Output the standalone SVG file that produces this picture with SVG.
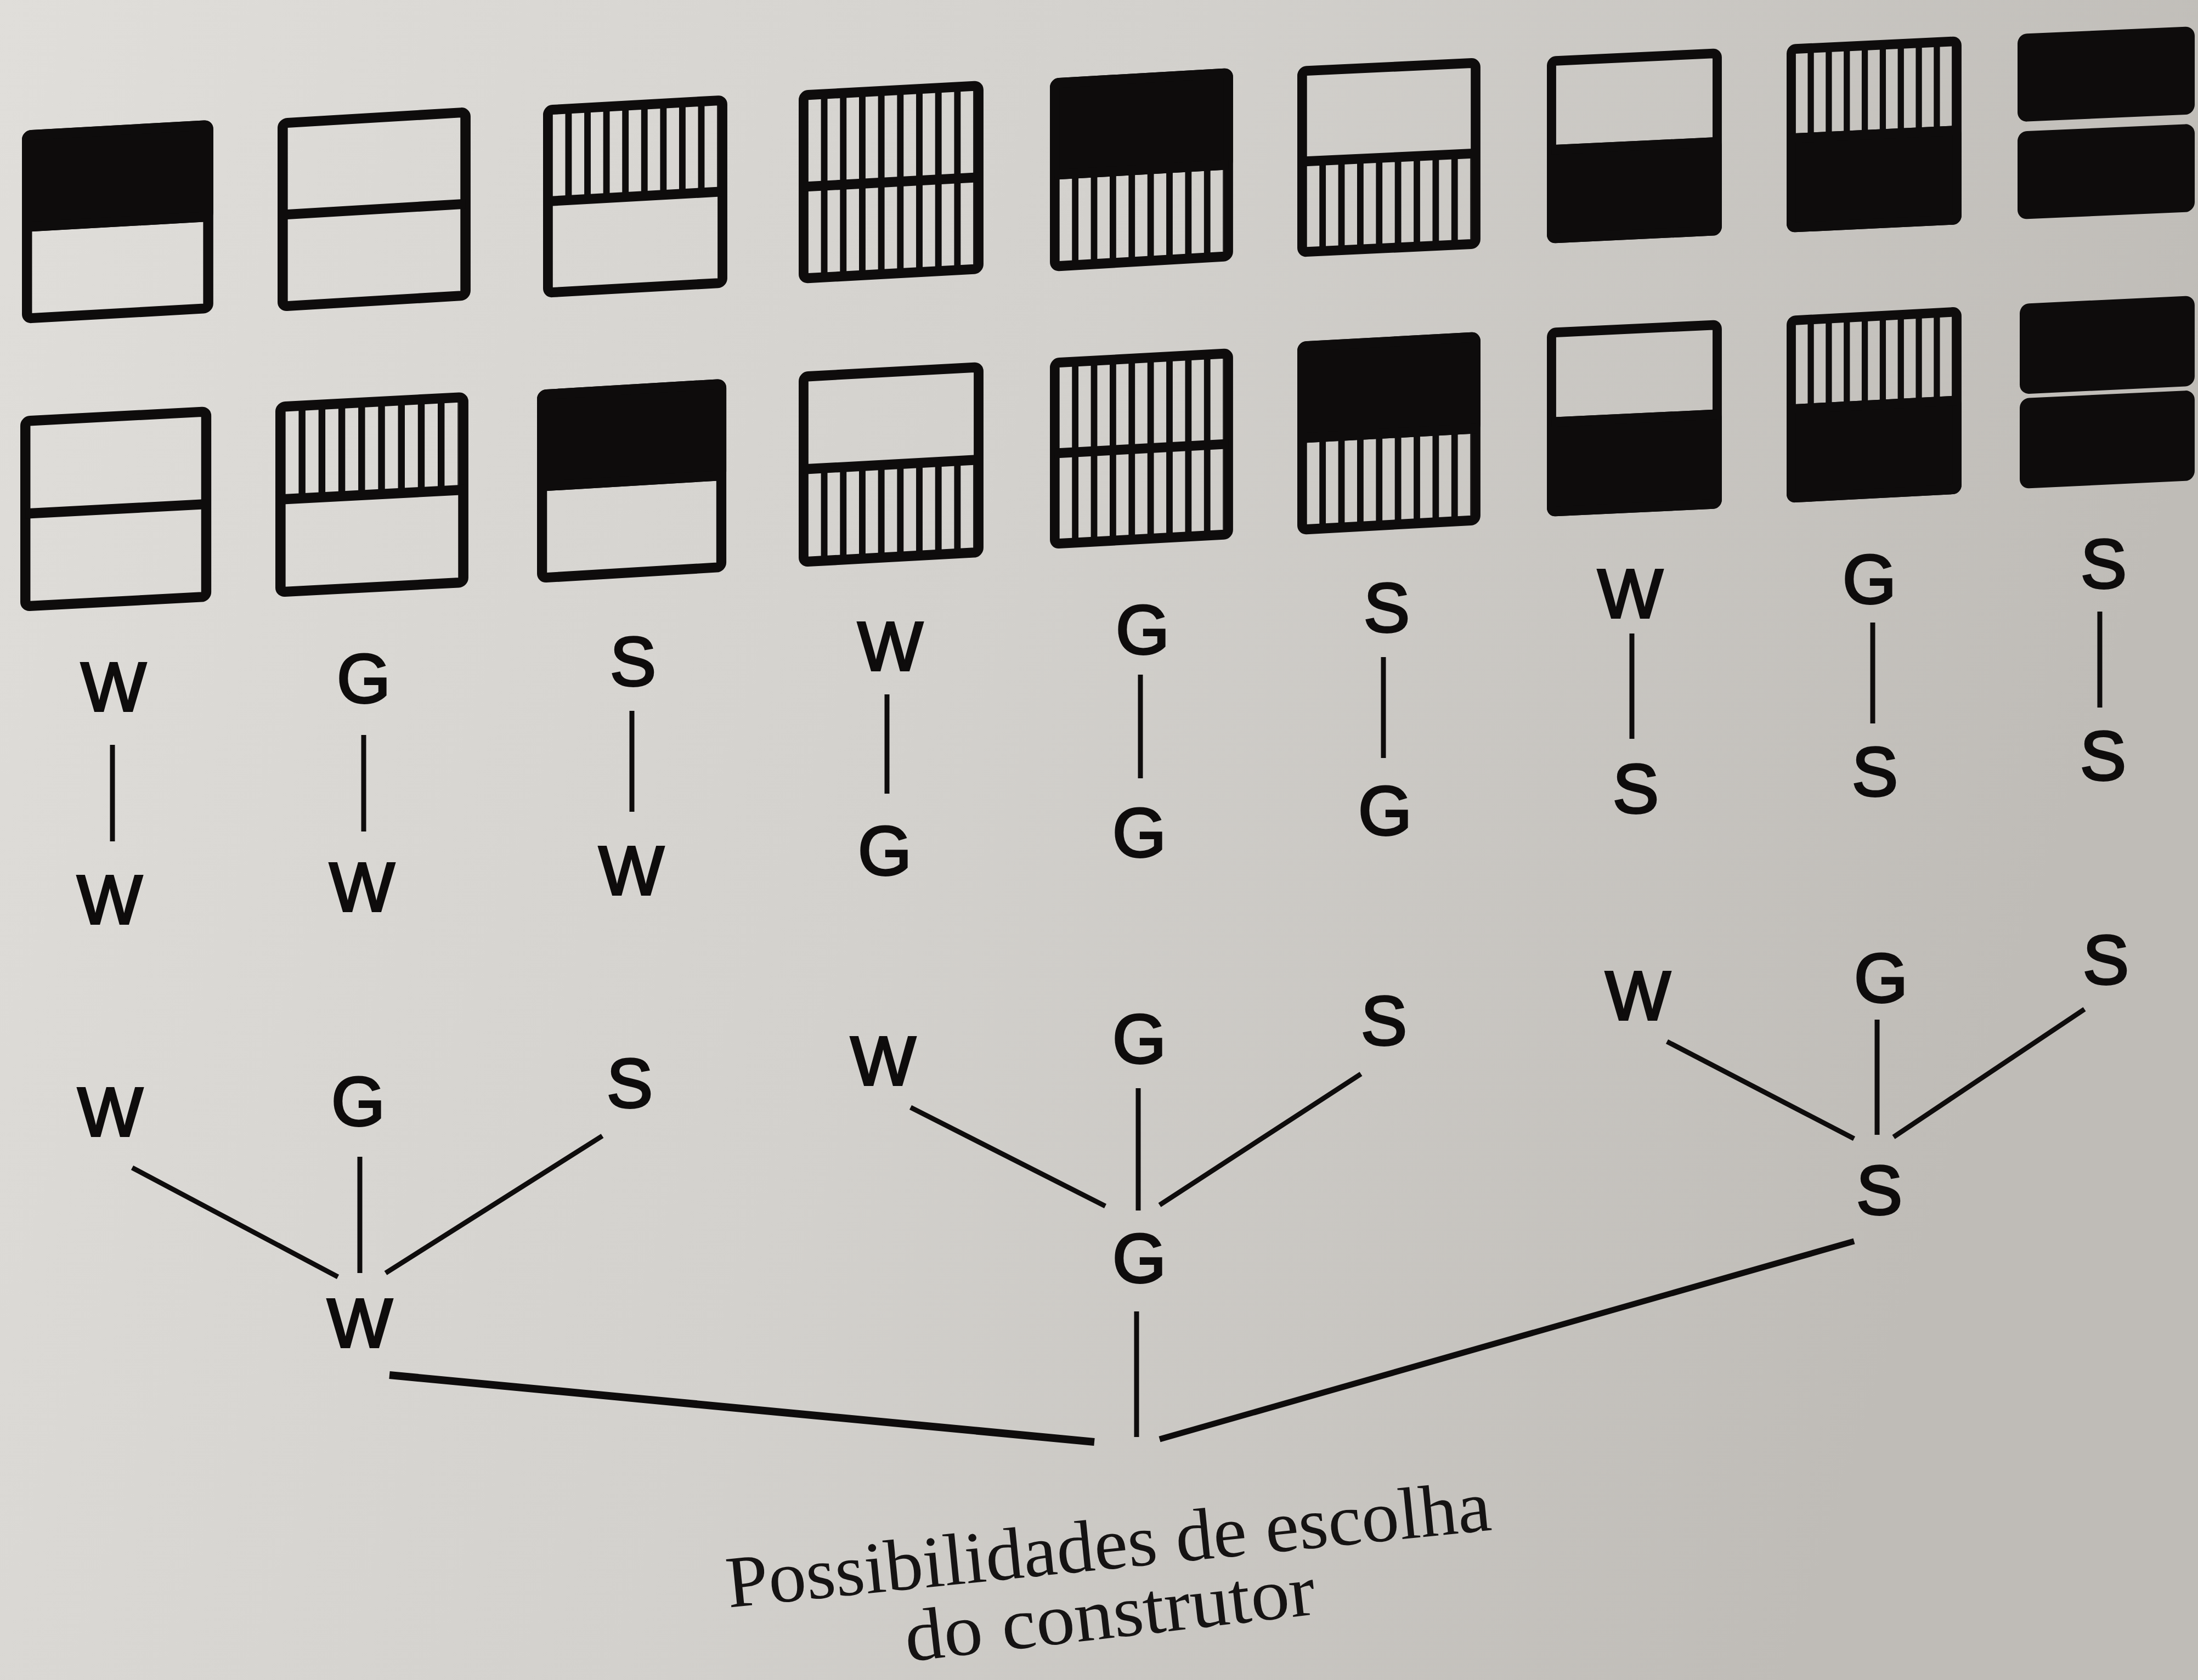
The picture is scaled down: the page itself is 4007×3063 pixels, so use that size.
<svg xmlns="http://www.w3.org/2000/svg" xmlns:xlink="http://www.w3.org/1999/xlink" width="4007" height="3063" viewBox="0 0 4007 3063">
<style>
.lbl{font-family:"Liberation Sans",Arial,sans-serif;font-size:126px;fill:#0e0c0c;stroke:#0e0c0c;stroke-width:4;text-anchor:middle}
.cap{font-family:"Liberation Serif","Times New Roman",serif;font-size:134px;fill:#151313;text-anchor:middle}
.ln{stroke:#0e0c0c;stroke-width:9;fill:none}
.thick{stroke-width:14}
.mid{stroke-width:11}
</style>
<defs>
<linearGradient id="paper" x1="0" y1="0" x2="1" y2="0.25">
<stop offset="0" stop-color="#e0deda"/>
<stop offset="0.5" stop-color="#d3d1cd"/>
<stop offset="1" stop-color="#bfbcb7"/>
</linearGradient>
<rect id="frame" x="9" y="9" width="322" height="332" rx="8" fill="none" stroke="#0e0c0c" stroke-width="18"/>
<rect id="div" x="9" y="166" width="322" height="18" fill="#0e0c0c"/>
<rect id="topS" x="0" y="0" width="340" height="184" rx="16" fill="#0e0c0c"/>
<rect id="botS" x="0" y="166" width="340" height="184" rx="16" fill="#0e0c0c"/>
<line id="topG" x1="18" y1="92" x2="322" y2="92" stroke="#0e0c0c" stroke-width="150" stroke-dasharray="12 23" stroke-dashoffset="12"/>
<line id="botG" x1="18" y1="258" x2="322" y2="258" stroke="#0e0c0c" stroke-width="150" stroke-dasharray="12 23" stroke-dashoffset="12"/>
</defs>
<rect x="0" y="0" width="4007" height="3063" fill="url(#paper)"/>

<g id="row1">
<g id="r1c1" transform="translate(40,238) skewY(-3.2) scale(1.026,1.006)"><use href="#topS"/><use href="#frame"/><use href="#div"/></g>
<g id="r1c2" transform="translate(506,216) skewY(-3.4) scale(1.035,1.006)"><use href="#frame"/><use href="#div"/></g>
<g id="r1c3" transform="translate(990,192) skewY(-3.2) scale(0.988,1.003)"><use href="#topG"/><use href="#frame"/><use href="#div"/></g>
<g id="r1c4" transform="translate(1456,165) skewY(-3.1) scale(0.991,1.006)"><use href="#topG"/><use href="#botG"/><use href="#frame"/><use href="#div"/></g>
<g id="r1c5" transform="translate(1914,143) skewY(-3.3) scale(0.982,1.006)"><use href="#topS"/><use href="#botG"/><use href="#frame"/><use href="#div"/></g>
<g id="r1c6" transform="translate(2365,121) skewY(-2.7) scale(0.982,0.994)"><use href="#botG"/><use href="#frame"/><use href="#div"/></g>
<g id="r1c7" transform="translate(2820,103) skewY(-2.7) scale(0.938,0.974)"><use href="#botS"/><use href="#frame"/><use href="#div"/></g>
<g id="r1c8" transform="translate(3257,81) skewY(-2.7) scale(0.938,0.98)"><use href="#topG"/><use href="#botS"/><use href="#frame"/><use href="#div"/></g>
<g id="r1c9" transform="translate(3678,62) skewY(-2.5) scale(0.95,0.966)"><rect x="0" y="0" width="340" height="166" rx="18" fill="#0e0c0c"/><rect x="0" y="184" width="340" height="166" rx="18" fill="#0e0c0c"/></g>
</g>

<g id="row2">
<g id="r2c1" transform="translate(37,759) skewY(-3.0) scale(1.024,1.017)"><use href="#frame"/><use href="#div"/></g>
<g id="r2c2" transform="translate(502,733) skewY(-3.0) scale(1.035,1.017)"><use href="#topG"/><use href="#frame"/><use href="#div"/></g>
<g id="r2c3" transform="translate(979,711) skewY(-3.4) scale(1.015,1.006)"><use href="#topS"/><use href="#frame"/><use href="#div"/></g>
<g id="r2c4" transform="translate(1456,678) skewY(-3.1) scale(0.991,1.017)"><use href="#botG"/><use href="#frame"/><use href="#div"/></g>
<g id="r2c5" transform="translate(1914,653) skewY(-3.1) scale(0.982,0.994)"><use href="#topG"/><use href="#botG"/><use href="#frame"/><use href="#div"/></g>
<g id="r2c6" transform="translate(2365,623) skewY(-3.1) scale(0.982,1.006)"><use href="#topS"/><use href="#botG"/><use href="#frame"/><use href="#div"/></g>
<g id="r2c7" transform="translate(2820,598) skewY(-2.7) scale(0.938,0.983)"><use href="#botS"/><use href="#frame"/><use href="#div"/></g>
<g id="r2c8" transform="translate(3257,576) skewY(-3.0) scale(0.938,0.974)"><use href="#topG"/><use href="#botS"/><use href="#frame"/><use href="#div"/></g>
<g id="r2c9" transform="translate(3682,554) skewY(-2.7) scale(0.938,0.963)"><rect x="0" y="0" width="340" height="171" rx="18" fill="#0e0c0c"/><rect x="0" y="179" width="340" height="171" rx="18" fill="#0e0c0c"/></g>
</g>

<g id="pairs">
<g id="p1"><text class="lbl" x="207" y="1296">W</text><text class="lbl" x="200" y="1684">W</text></g>
<g id="p2"><text class="lbl" x="663" y="1281">G</text><text class="lbl" x="660" y="1661">W</text></g>
<g id="p3"><text class="lbl" x="1154" y="1250">S</text><text class="lbl" x="1151" y="1631">W</text></g>
<g id="p4"><text class="lbl" x="1623" y="1222">W</text><text class="lbl" x="1613" y="1595">G</text></g>
<g id="p5"><text class="lbl" x="2083" y="1192">G</text><text class="lbl" x="2077" y="1562">G</text></g>
<g id="p6"><text class="lbl" x="2528" y="1152">S</text><text class="lbl" x="2525" y="1522">G</text></g>
<g id="p7"><text class="lbl" x="2972" y="1126">W</text><text class="lbl" x="2982" y="1482">S</text></g>
<g id="p8"><text class="lbl" x="3408" y="1100">G</text><text class="lbl" x="3418" y="1451">S</text></g>
<g id="p9"><text class="lbl" x="3835" y="1072">S</text><text class="lbl" x="3834" y="1422">S</text></g>
</g>

<g id="tree">
<g id="tW"><text class="lbl" x="656" y="2456">W</text></g>
<g id="tW-leaves"><text class="lbl" x="201" y="2071">W</text><text class="lbl" x="653" y="2052">G</text><text class="lbl" x="1148" y="2019">S</text></g>
<g id="tG"><text class="lbl" x="2077" y="2338">G</text></g>
<g id="tG-leaves"><text class="lbl" x="1610" y="1978">W</text><text class="lbl" x="2077" y="1938">G</text><text class="lbl" x="2523" y="1905">S</text></g>
<g id="tS"><text class="lbl" x="3426" y="2214">S</text></g>
<g id="tS-leaves"><text class="lbl" x="2986" y="1859">W</text><text class="lbl" x="3429" y="1827">G</text><text class="lbl" x="3839" y="1794">S</text></g>
</g>

<g id="connectors">
<line class="ln" x1="205" y1="1358" x2="205" y2="1534"/>
<line class="ln" x1="663" y1="1340" x2="663" y2="1516"/>
<line class="ln" x1="1152" y1="1296" x2="1152" y2="1480"/>
<line class="ln" x1="1617" y1="1266" x2="1617" y2="1447"/>
<line class="ln" x1="2079" y1="1230" x2="2079" y2="1419"/>
<line class="ln" x1="2522" y1="1198" x2="2522" y2="1382"/>
<line class="ln" x1="2975" y1="1155" x2="2975" y2="1347"/>
<line class="ln" x1="3414" y1="1135" x2="3414" y2="1319"/>
<line class="ln" x1="3828" y1="1115" x2="3828" y2="1290"/>

<line class="ln" x1="241" y1="2129" x2="616" y2="2328"/>
<line class="ln" x1="656" y1="2109" x2="656" y2="2321"/>
<line class="ln" x1="1098" y1="2071" x2="703" y2="2321"/>

<line class="ln" x1="1660" y1="2019" x2="2015" y2="2199"/>
<line class="ln" x1="2075" y1="1984" x2="2075" y2="2207"/>
<line class="ln" x1="2481" y1="1958" x2="2114" y2="2197"/>

<line class="ln" x1="3039" y1="1899" x2="3380" y2="2076"/>
<line class="ln" x1="3422" y1="1859" x2="3422" y2="2069"/>
<line class="ln" x1="3800" y1="1840" x2="3452" y2="2073"/>

<line class="ln thick" x1="710" y1="2507" x2="1995" y2="2629"/>
<line class="ln" x1="2072" y1="2391" x2="2072" y2="2620"/>
<line class="ln mid" x1="2114" y1="2624" x2="3380" y2="2263"/>
</g>

<g id="caption">
<text class="cap" x="2025" y="2860" transform="rotate(-5.8 2025 2860)" textLength="1400" lengthAdjust="spacingAndGlyphs">Possibilidades de escolha</text>
<text class="cap" x="2028" y="2986" transform="rotate(-6.6 2028 2986)" textLength="752" lengthAdjust="spacingAndGlyphs">do construtor</text>
</g>
</svg>
